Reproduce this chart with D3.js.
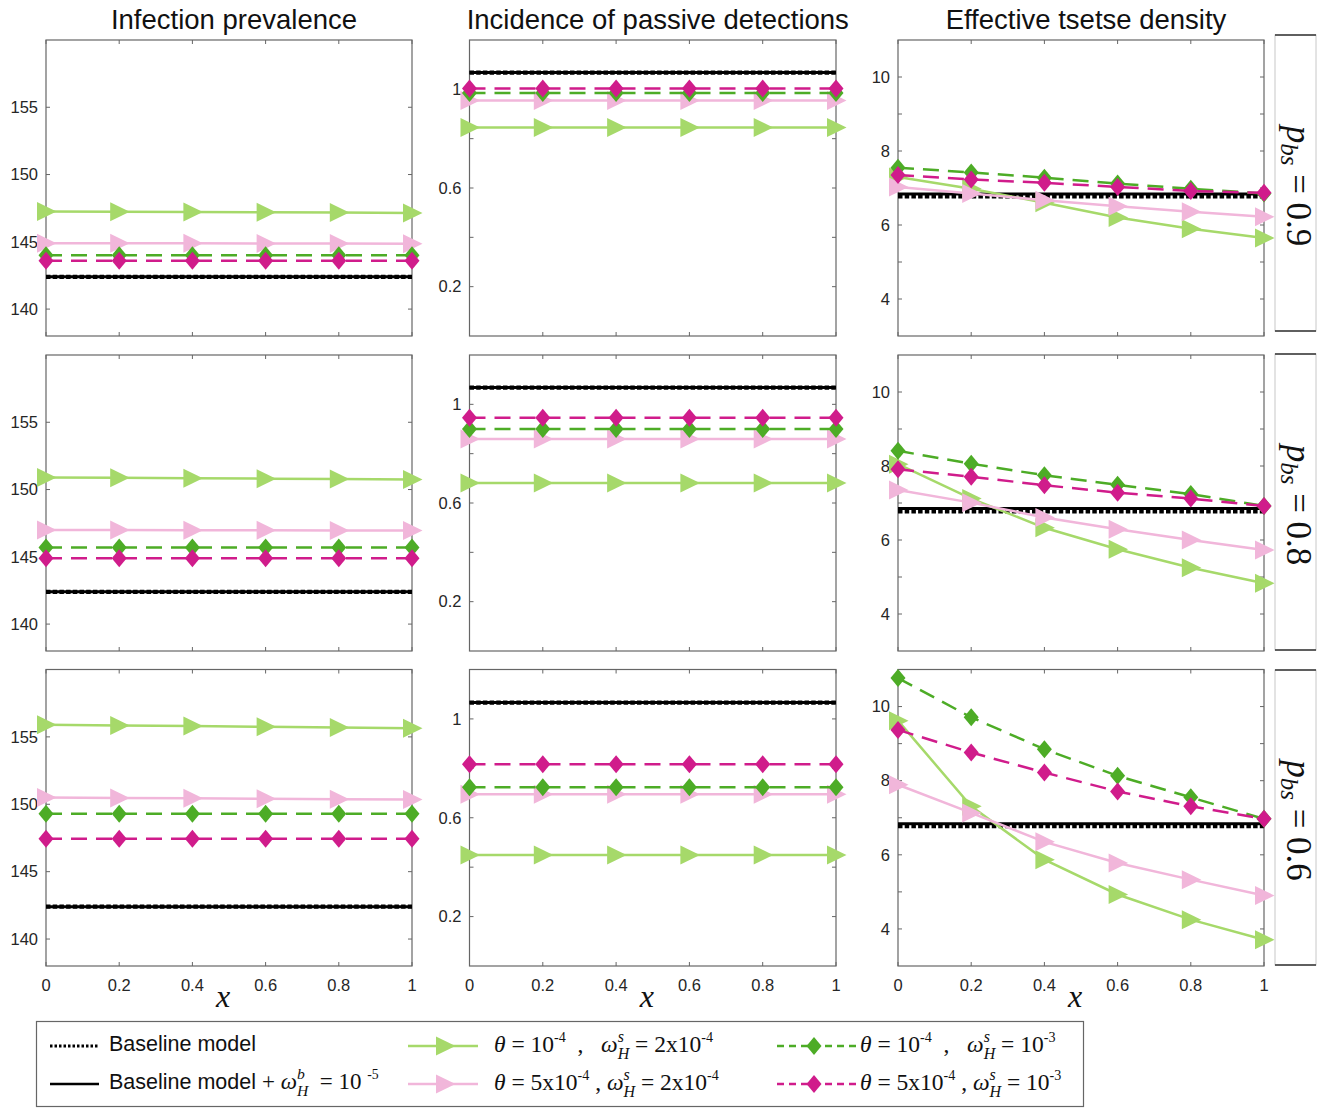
<!DOCTYPE html>
<html>
<head>
<meta charset="utf-8">
<script src="https://cdn.jsdelivr.net/npm/d3@7"></script>
<style>
  body { margin: 0; background: #fff; }
</style>
</head>
<body>
<svg id="chart"></svg>
<script>
// ---- data ----
const xValues = [0, 0.2, 0.4, 0.6, 0.8, 1];
const xTickLabels = ["0", "0.2", "0.4", "0.6", "0.8", "1"];
const columnTitles = ["Infection prevalence", "Incidence of passive detections", "Effective tsetse density"];
const pbsValues = ["0.9", "0.8", "0.6"];
const yDomains = [[138, 160], [0, 1.2], [3, 11]];
const yTicks = [[140, 145, 150, 155], [0.2, 0.4, 0.6, 0.8, 1], [4, 5, 6, 7, 8, 9, 10]];
const yTickLabels = [["140", "145", "150", "155"], ["0.2", "", "0.6", "", "1"], ["4", "", "6", "", "8", "", "10"]];

// baseline (dotted) and baseline + omega_H^b (solid), one value per row
const prevBaseline = [142.4, 142.4, 142.4];
const prevBaselineOmegaB = [142.4, 142.4, 142.4];
const incBaseline = [1.068, 1.068, 1.066];
const incBaselineOmegaB = [1.068, 1.068, 1.066];
const densBaseline = [6.77, 6.77, 6.77];
const densBaselineOmegaB = [6.84, 6.85, 6.84];

// rows: p_bs = 0.9, 0.8, 0.6
const prevTheta1Omega2 = [
  [147.25, 147.23, 147.21, 147.19, 147.17, 147.15],
  [150.9, 150.87, 150.84, 150.81, 150.78, 150.75],
  [155.9, 155.85, 155.8, 155.75, 155.7, 155.65]];
const prevTheta5Omega2 = [
  [144.9, 144.9, 144.89, 144.88, 144.87, 144.86],
  [147.0, 146.99, 146.98, 146.97, 146.96, 146.95],
  [150.5, 150.47, 150.44, 150.41, 150.38, 150.35]];
const prevTheta1Omega10 = [
  [144.0, 144.0, 144.0, 144.0, 144.0, 144.0],
  [145.7, 145.7, 145.7, 145.7, 145.7, 145.7],
  [149.3, 149.3, 149.3, 149.3, 149.3, 149.3]];
const prevTheta5Omega10 = [
  [143.6, 143.6, 143.6, 143.6, 143.6, 143.6],
  [144.9, 144.9, 144.9, 144.9, 144.9, 144.9],
  [147.45, 147.45, 147.45, 147.45, 147.45, 147.45]];

const incTheta1Omega2 = [
  [0.845, 0.845, 0.845, 0.845, 0.845, 0.845],
  [0.681, 0.681, 0.681, 0.681, 0.681, 0.681],
  [0.449, 0.449, 0.449, 0.449, 0.449, 0.449]];
const incTheta5Omega2 = [
  [0.955, 0.955, 0.955, 0.955, 0.955, 0.955],
  [0.859, 0.859, 0.859, 0.859, 0.859, 0.859],
  [0.695, 0.695, 0.695, 0.695, 0.695, 0.695]];
const incTheta1Omega10 = [
  [0.985, 0.985, 0.985, 0.985, 0.985, 0.985],
  [0.90, 0.90, 0.90, 0.90, 0.90, 0.90],
  [0.723, 0.723, 0.723, 0.723, 0.723, 0.723]];
const incTheta5Omega10 = [
  [1.003, 1.003, 1.003, 1.003, 1.003, 1.003],
  [0.946, 0.946, 0.946, 0.946, 0.946, 0.946],
  [0.817, 0.817, 0.817, 0.817, 0.817, 0.817]];

const densTheta1Omega2 = [
  [7.3, 6.98, 6.6, 6.2, 5.9, 5.65],
  [8.05, 7.12, 6.33, 5.75, 5.25, 4.83],
  [9.62, 7.31, 5.87, 4.93, 4.25, 3.71]];
const densTheta5Omega2 = [
  [7.03, 6.85, 6.67, 6.51, 6.36, 6.22],
  [7.35, 7.01, 6.61, 6.29, 6.0, 5.73],
  [7.89, 7.13, 6.35, 5.78, 5.33, 4.9]];
const densTheta1Omega10 = [
  [7.55, 7.42, 7.28, 7.12, 6.98, 6.85],
  [8.41, 8.06, 7.75, 7.49, 7.24, 6.92],
  [10.77, 9.71, 8.85, 8.13, 7.55, 6.97]];
const densTheta5Omega10 = [
  [7.35, 7.23, 7.14, 7.03, 6.92, 6.87],
  [7.91, 7.71, 7.48, 7.28, 7.12, 6.92],
  [9.37, 8.76, 8.22, 7.71, 7.31, 6.97]];

const baselineDotted = [prevBaseline, incBaseline, densBaseline];
const baselineSolid = [prevBaselineOmegaB, incBaselineOmegaB, densBaselineOmegaB];
const seriesByColumn = [
  [prevTheta1Omega2, prevTheta5Omega2, prevTheta1Omega10, prevTheta5Omega10],
  [incTheta1Omega2, incTheta5Omega2, incTheta1Omega10, incTheta5Omega10],
  [densTheta1Omega2, densTheta5Omega2, densTheta1Omega10, densTheta5Omega10]];

// styles of the four coloured series
const seriesColors = ["#a6d96a", "#f1b6da", "#4dac26", "#d01c8b"];
const seriesDashed = [false, false, true, true];
const seriesMarker = ["tri", "tri", "dia", "dia"];

// ---- layout ----
const width = 1322, height = 1108;
const colLeft = [46, 469.5, 898], colRight = [412, 836, 1264];
const rowTop = [40, 355, 669.5], rowBottom = [336, 651, 966];
const stripTop = [35, 354, 670], stripBottom = [331, 650, 965];
const serif = '"Liberation Serif", "Times New Roman", serif';
const sans = '"Liberation Sans", Arial, sans-serif';
const axisColor = "#666";
const tickText = "#262626";

const markerPath = {
  tri: "M-9,-9.5L10.5,0L-9,9.5Z",
  dia: "M0,-9L7.5,0L0,9L-7.5,0Z"
};

const svg = d3.select("#chart")
  .attr("width", width).attr("height", height)
  .attr("font-family", sans);
svg.append("rect").attr("width", width).attr("height", height).attr("fill", "#fff");

// column titles
columnTitles.forEach((t, c) => {
  svg.append("text")
    .attr("x", (colLeft[c] + colRight[c]) / 2 + 5)
    .attr("y", 29)
    .attr("text-anchor", "middle")
    .attr("font-size", 27.5)
    .attr("fill", "#111")
    .text(t);
});

function drawPanel(r, c) {
  const x = d3.scaleLinear().domain([0, 1]).range([colLeft[c], colRight[c]]);
  const y = d3.scaleLinear().domain(yDomains[c]).range([rowBottom[r], rowTop[r]]);
  const g = svg.append("g");

  // box
  g.append("rect")
    .attr("x", colLeft[c]).attr("y", rowTop[r])
    .attr("width", colRight[c] - colLeft[c]).attr("height", rowBottom[r] - rowTop[r])
    .attr("fill", "#fff").attr("stroke", axisColor).attr("stroke-width", 1.2);

  // ticks on all four sides
  const tl = 4;
  xValues.forEach(v => {
    g.append("line").attr("x1", x(v)).attr("x2", x(v))
      .attr("y1", rowBottom[r]).attr("y2", rowBottom[r] - tl)
      .attr("stroke", axisColor);
    g.append("line").attr("x1", x(v)).attr("x2", x(v))
      .attr("y1", rowTop[r]).attr("y2", rowTop[r] + tl)
      .attr("stroke", axisColor);
  });
  yTicks[c].forEach((v, i) => {
    g.append("line").attr("x1", colLeft[c]).attr("x2", colLeft[c] + tl)
      .attr("y1", y(v)).attr("y2", y(v)).attr("stroke", axisColor);
    g.append("line").attr("x1", colRight[c]).attr("x2", colRight[c] - tl)
      .attr("y1", y(v)).attr("y2", y(v)).attr("stroke", axisColor);
    if (yTickLabels[c][i]) {
      g.append("text")
        .attr("x", colLeft[c] - 8).attr("y", y(v))
        .attr("dy", "0.35em")
        .attr("text-anchor", "end")
        .attr("font-size", 16.5)
        .attr("fill", tickText)
        .text(yTickLabels[c][i]);
    }
  });

  if (r === 2) {
    xValues.forEach((v, i) => {
      g.append("text")
        .attr("x", x(v)).attr("y", rowBottom[r] + 25)
        .attr("text-anchor", "middle")
        .attr("font-size", 16.5)
        .attr("fill", tickText)
        .text(xTickLabels[i]);
    });
    g.append("text")
      .attr("x", (colLeft[c] + colRight[c]) / 2 - 6)
      .attr("y", rowBottom[r] + 41)
      .attr("text-anchor", "middle")
      .attr("font-family", serif)
      .attr("font-style", "italic")
      .attr("font-size", 32)
      .attr("fill", "#111")
      .text("x");
  }

  const line = d3.line().x(d => x(d[0])).y(d => y(d[1]));

  // baselines: solid underneath, dotted on top
  const solidV = baselineSolid[c][r], dotV = baselineDotted[c][r];
  g.append("path")
    .attr("d", line([[0, solidV], [1, solidV]]))
    .attr("stroke", "#000").attr("stroke-width", 3).attr("fill", "none");
  g.append("path")
    .attr("d", line([[0, dotV], [1, dotV]]))
    .attr("stroke", "#000").attr("stroke-width", 4.2)
    .attr("stroke-dasharray", "4.5,2.2").attr("fill", "none");

  // coloured series
  seriesByColumn[c].forEach((series, s) => {
    const pts = xValues.map((xv, i) => [xv, series[r][i]]);
    g.append("path")
      .attr("d", line(pts))
      .attr("fill", "none")
      .attr("stroke", seriesColors[s])
      .attr("stroke-width", 2.5)
      .attr("stroke-dasharray", seriesDashed[s] ? "16,9" : null);
    g.selectAll(null).data(pts).enter().append("path")
      .attr("d", markerPath[seriesMarker[s]])
      .attr("transform", d => `translate(${x(d[0])},${y(d[1])})`)
      .attr("fill", seriesColors[s]);
  });

  // facet strip on the right
  if (c === 2) {
    const sx0 = 1275, sx1 = 1316;
    svg.append("rect")
      .attr("x", sx0).attr("y", stripTop[r])
      .attr("width", sx1 - sx0).attr("height", stripBottom[r] - stripTop[r])
      .attr("fill", "#fff").attr("stroke", "#c8c8c8");
    [stripTop[r], stripBottom[r]].forEach(yy => {
      svg.append("line").attr("x1", sx0).attr("x2", sx1)
        .attr("y1", yy).attr("y2", yy)
        .attr("stroke", "#333").attr("stroke-width", 1.5);
    });
    const lab = svg.append("text")
      .attr("transform", `translate(1287,${(stripTop[r] + stripBottom[r]) / 2 + 3}) rotate(90)`)
      .attr("text-anchor", "middle")
      .attr("font-family", serif)
      .attr("font-size", 35)
      .attr("fill", "#111");
    lab.append("tspan").attr("font-style", "italic").text("p");
    lab.append("tspan").attr("font-style", "italic").attr("font-size", 25).attr("dy", 6).text("bs");
    lab.append("tspan").attr("dy", -6).style("white-space", "pre").text(" = " + pbsValues[r]);
  }
}

for (let r = 0; r < 3; r++) for (let c = 0; c < 3; c++) drawPanel(r, c);

// ---- legend ----
const lg = svg.append("g");
lg.append("rect")
  .attr("x", 36.5).attr("y", 1021.5)
  .attr("width", 1047).attr("height", 85)
  .attr("fill", "#fff").attr("stroke", "#666").attr("stroke-width", 1.2);

function richText(g, x0, y0, parts, size) {
  let cx = x0, stackW = 0;
  parts.forEach(p => {
    const fs = p.sans ? 21.5 : size;
    const t = g.append("text")
      .attr("x", cx).attr("y", y0 + (p.dy || 0) * fs)
      .attr("font-family", p.sans ? sans : serif)
      .attr("font-style", p.it ? "italic" : "normal")
      .attr("font-size", fs * (p.sc || 1))
      .attr("fill", "#111")
      .attr("xml:space", "preserve")
      .style("white-space", "pre")
      .text(p.t);
    const w = t.node().getComputedTextLength();
    if (p.stack) { stackW = w; }
    else { cx += Math.max(w, stackW); stackW = 0; }
  });
}

const sup = t => ({ t: t, sc: 0.6, dy: -0.42 });
const omegaS = [{ t: "ω", it: true }, { t: "s", it: true, sc: 0.68, dy: -0.42, stack: true }, { t: "H", it: true, sc: 0.68, dy: 0.3 }];

const legendRowY = [1046, 1084];
const legendText = [
  [[{ t: "Baseline model", sans: true }],
   [{ t: "Baseline model ", sans: true }, { t: "+ " }, { t: "ω", it: true },
    { t: "b", it: true, sc: 0.68, dy: -0.45, stack: true }, { t: "H", it: true, sc: 0.68, dy: 0.3 },
    { t: "  = 10 " }, sup("-5")]],
  [[{ t: "θ", it: true }, { t: " = 10" }, sup("-4"), { t: "  ,   " }, ...omegaS, { t: " = 2x10" }, sup("-4")],
   [{ t: "θ", it: true }, { t: " = 5x10" }, sup("-4"), { t: " , " }, ...omegaS, { t: " = 2x10" }, sup("-4")]],
  [[{ t: "θ", it: true }, { t: " = 10" }, sup("-4"), { t: "  ,   " }, ...omegaS, { t: " = 10" }, sup("-3")],
   [{ t: "θ", it: true }, { t: " = 5x10" }, sup("-4"), { t: " , " }, ...omegaS, { t: " = 10" }, sup("-3")]]
];

// black baseline entries
[0, 1].forEach(i => {
  lg.append("line")
    .attr("x1", 50).attr("x2", 99)
    .attr("y1", legendRowY[i]).attr("y2", legendRowY[i])
    .attr("stroke", "#000")
    .attr("stroke-width", i === 0 ? 3 : 2.5)
    .attr("stroke-dasharray", i === 0 ? "2.5,2" : null);
  richText(lg, 109, legendRowY[i] + 5, legendText[0][i], 23);
});

// coloured series entries
const legendCol = [{ x1: 408, x2: 478, mx: 445, tx: 494 }, { x1: 777, x2: 858, mx: 814, tx: 860 }];
seriesColors.forEach((col, s) => {
  const lc = legendCol[s < 2 ? 0 : 1];
  const ly = legendRowY[s % 2];
  lg.append("line")
    .attr("x1", lc.x1).attr("x2", lc.x2)
    .attr("y1", ly).attr("y2", ly)
    .attr("stroke", col).attr("stroke-width", 2.5)
    .attr("stroke-dasharray", seriesDashed[s] ? "7,5" : null);
  lg.append("path")
    .attr("d", markerPath[seriesMarker[s]])
    .attr("transform", `translate(${lc.mx},${ly})`)
    .attr("fill", col);
  richText(lg, lc.tx, ly + 6, legendText[s < 2 ? 1 : 2][s % 2], 23.5);
});
</script>
</body>
</html>
